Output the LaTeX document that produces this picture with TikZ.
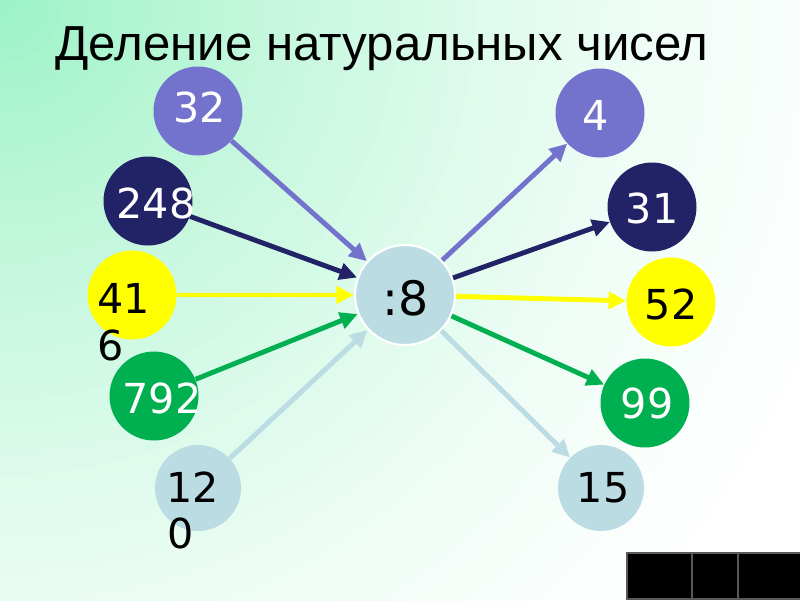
\documentclass[tikz,border=0pt]{standalone}
\usepackage{fontspec}
\setmainfont{Liberation Sans}
\newfontfamily\numfont{DejaVu Sans}
\usetikzlibrary{arrows.meta}
\usetikzlibrary{positioning}

\definecolor{mint}{RGB}{155,242,198}
\definecolor{lav}{RGB}{115,115,205}
\definecolor{navy}{RGB}{34,34,102}
\definecolor{yel}{RGB}{255,255,0}
\definecolor{grn}{RGB}{0,176,80}
\definecolor{pale}{RGB}{187,220,227}

\begin{document}
\begin{tikzpicture}[x=0.02cm,y=-0.02cm,
    ball/.style={circle,minimum size=1.78cm,inner sep=0pt},
    num/.style={font=\numfont\fontsize{23.5}{27}\selectfont,inner sep=0pt,anchor=base},
    arr/.style={line width=2.8pt,-{Triangle[length=10pt,width=9.5pt]}}]
    \useasboundingbox (0,0) rectangle (800,600);
    % background
    \begin{scope}
        \clip (0,0) rectangle (800,600);
        \fill[white] (0,0) rectangle (800,600);
        \foreach \i in {76,75,...,1}{
            \pgfmathtruncatemacro\p{100*(1-\i/76)^1.5}
            \fill[mint!\p!white] (0,0) circle (\i*12.5);
        }
    \end{scope}
    \node[anchor=base west,inner sep=0pt,font=\fontsize{28}{32}\selectfont] (title) at (55,60) {Деление натуральных чисел};
    % left side
    \node[ball,fill=lav] (a32) at (198,111) {};
    \node[ball,fill=navy] (a248) at (148,201) {};
    \node[ball,fill=yel] (a416) at (132,295) {};
    \node[ball,fill=grn] (a792) at (154,396) {};
    \node[ball,fill=pale,minimum size=1.72cm] (a120) at (198,488) {};
    % divisor
    \node[ball,fill=pale,draw=white,line width=1.2pt,minimum size=2cm] (div) at (405,295) {};
    % right side
    \node[ball,fill=lav] (b4) at (600,113) {};
    \node[ball,fill=navy] (b31) at (652,207) {};
    \node[ball,fill=yel] (b52) at (671,302) {};
    \node[ball,fill=grn] (b99) at (645,403) {};
    \node[ball,fill=pale,minimum size=1.72cm] (b15) at (601,488) {};
    % arrows
    \draw[arr,lav] (a32) -- (div);
    \draw[arr,navy] (a248) -- (div);
    \draw[arr,yel] (a416) -- (div);
    \draw[arr,grn] (a792) -- (div);
    \draw[arr,pale] (a120) -- (div);
    \draw[arr,lav] (div) -- (b4);
    \draw[arr,navy] (div) -- (b31);
    \draw[arr,yel] (div) -- (b52);
    \draw[arr,grn] (div) -- (b99);
    \draw[arr,pale] (div) -- (b15);
    % numbers
    \node[num,white] (t32) at (200,122) {32};
    \node[num,white] (t248) at (156,218) {248};
    \node[num,anchor=base west] (t41) at (97,313) {41};
    \node[num,anchor=base west] (t6) at (97,360) {6};
    \node[num,white] (t792) at (162,413) {792};
    \node[num,anchor=base west] (t12) at (166,502) {12};
    \node[num,anchor=base west] (t0) at (167,548) {0};
    \node[num,font=\numfont\fontsize{27}{30}\selectfont] (t8) at (406,315) {:8};
    \node[num,white] (t4) at (596,130) {4};
    \node[num,white] (t31) at (652,223) {31};
    \node[num] (t52) at (671,319) {52};
    \node[num,white] (t99) at (647,418) {99};
    \node[num] (t15) at (603,502) {15};
    % navigation buttons
    \foreach \xa/\xb in {627/692,692/738,738/801}
        \draw[gray!70!black,line width=1.2pt,fill=black] (\xa,553) rectangle (\xb,599);
\end{tikzpicture}
\end{document}
